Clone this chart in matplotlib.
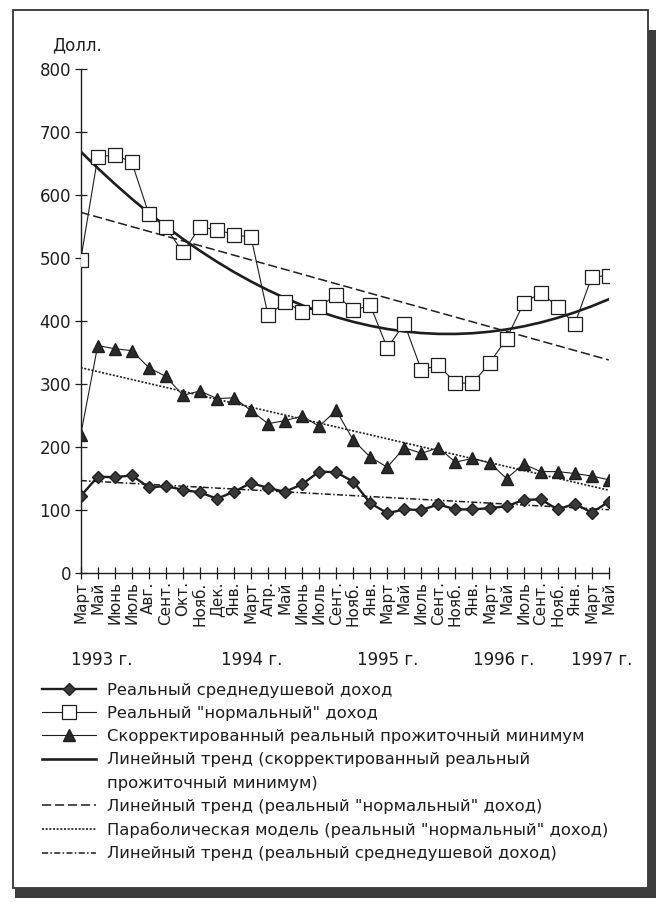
import matplotlib
matplotlib.use("Agg")
import matplotlib.pyplot as plt
from matplotlib.lines import Line2D
from matplotlib.patches import Rectangle
import numpy as np

plt.rcParams['font.family'] = ['DejaVu Sans']

# --- data ---
months = ["Март", "Май", "Июнь", "Июль", "Авг.", "Сент.", "Окт.", "Нояб.", "Дек.",
          "Янв.", "Март", "Апр.", "Май", "Июнь", "Июль", "Сент.", "Нояб.",
          "Янв.", "Март", "Май", "Июль", "Сент.", "Нояб.",
          "Янв.", "Март", "Май", "Июль", "Сент.", "Нояб.",
          "Янв.", "Март", "Май"]

years = ["1993 г.", "1994 г.", "1995 г.", "1996 г.", "1997 г."]
year_pos = [1.25, 10.05, 18.0, 24.85, 30.6]

income_avg = [122, 153, 152, 155, 136, 138, 132, 128, 118, 129, 143, 135, 129, 141,
              161, 160, 145, 111, 95, 101, 100, 109, 101, 101, 103, 106, 116, 117,
              101, 110, 96, 113]

income_normal = [497, 660, 664, 652, 570, 549, 509, 549, 545, 537, 533, 409, 430,
                 415, 422, 442, 417, 425, 357, 396, 322, 330, 302, 301, 333, 372,
                 428, 445, 423, 395, 470, 472]

subsistence = [219, 361, 356, 353, 326, 312, 282, 289, 277, 278, 258, 237, 242, 249,
               233, 258, 211, 184, 168, 199, 190, 199, 176, 182, 175, 150, 173, 161,
               161, 158, 154, 148]

labels = [
    "Реальный среднедушевой доход",
    "Реальный \"нормальный\" доход",
    "Скорректированный реальный прожиточный минимум",
    "Линейный тренд (скорректированный реальный",
    "прожиточный минимум)",
    "Линейный тренд (реальный \"нормальный\" доход)",
    "Параболическая модель (реальный \"нормальный\" доход)",
    "Линейный тренд (реальный среднедушевой доход)",
]

INK = "#1e1e1e"

# --- figure ---
fig = plt.figure(figsize=(6.56, 9.02), dpi=100)
ax = fig.add_axes([0.123, 0.3647, 0.805, 0.5588])

x = np.arange(len(months))

# fitted models
fit_normal_lin = np.polyval(np.polyfit(x, income_normal, 1), x)
fit_normal_par = np.polyval(np.polyfit(x, income_normal, 2), x)
fit_sub_lin = np.polyval(np.polyfit(x, subsistence, 1), x)
fit_avg_lin = np.polyval(np.polyfit(x, income_avg, 1), x)

h_par, = ax.plot(x, fit_normal_par, color=INK, lw=1.9, zorder=2)
h_nlin, = ax.plot(x, fit_normal_lin, color=INK, lw=1.1, dashes=(6, 2.5), zorder=2)
h_slin, = ax.plot(x, fit_sub_lin, color=INK, lw=1.2, dashes=(1.2, 1.0), zorder=2)
h_alin, = ax.plot(x, fit_avg_lin, color=INK, lw=1.1, dashes=(4, 1.5, 1, 1.5), zorder=2)

h_avg, = ax.plot(x, income_avg, color=INK, lw=1.7, marker="D", ms=6,
                 mfc="#3a3a3a", mec=INK, zorder=4)
h_norm, = ax.plot(x, income_normal, color=INK, lw=0.8, marker="s", ms=10.5,
                  mfc="white", mec=INK, mew=0.9, zorder=4)
h_sub, = ax.plot(x, subsistence, color=INK, lw=0.8, marker="^", ms=9,
                 mfc="#2a2a2a", mec=INK, zorder=4)

ax.set_xlim(0, len(months) - 1)
ax.set_ylim(0, 800)
ax.set_yticks(np.arange(0, 801, 100))
ax.set_xticks(x)
ax.set_xticklabels(months, rotation=90, fontsize=11, va="top")
ax.tick_params(axis="y", direction="inout", length=8, width=0.9, labelsize=12,
               pad=3, colors=INK)
ax.tick_params(axis="x", direction="inout", length=8, width=0.9, pad=2, colors=INK)
for s in ["top", "right"]:
    ax.spines[s].set_visible(False)
for s in ["left", "bottom"]:
    ax.spines[s].set_linewidth(1.0)
    ax.spines[s].set_color(INK)
ax.patch.set_alpha(0)

fig.text(0.08, 0.95, "Долл.", fontsize=12, ha="left", va="center", color=INK)

# year captions under the month labels
trans = matplotlib.transforms.blended_transform_factory(ax.transData, fig.transFigure)
for yr, pos in zip(years, year_pos):
    ax.text(pos, 0.268, yr, transform=trans, ha="center", va="center",
            fontsize=12, color=INK, clip_on=False)

# legend
blank = Line2D([], [], color="none")
handles = [h_avg, h_norm, h_sub, h_par, blank, h_nlin, h_slin, h_alin]
fig.legend(handles, labels, loc="upper left", bbox_to_anchor=(0.064, 0.243),
           frameon=False, fontsize=11.8, handlelength=3.3, handletextpad=0.65,
           labelspacing=0.5, borderpad=0, borderaxespad=0, labelcolor=INK)

# scanned page frame with shadow
fig.patches.append(Rectangle((13 / 656, 1 - 888 / 902), 635 / 656, 878 / 902,
                             transform=fig.transFigure, fill=False,
                             ec="#333333", lw=1.3, zorder=0))
fig.patches.append(Rectangle((648 / 656, 1 - 898 / 902), 8 / 656, 868 / 902,
                             transform=fig.transFigure, fc="#3c3c3c", ec="none"))
fig.patches.append(Rectangle((15 / 656, 1 - 898 / 902), 641 / 656, 10 / 902,
                             transform=fig.transFigure, fc="#3c3c3c", ec="none"))

fig.savefig("out.png", dpi=100, facecolor="white")
